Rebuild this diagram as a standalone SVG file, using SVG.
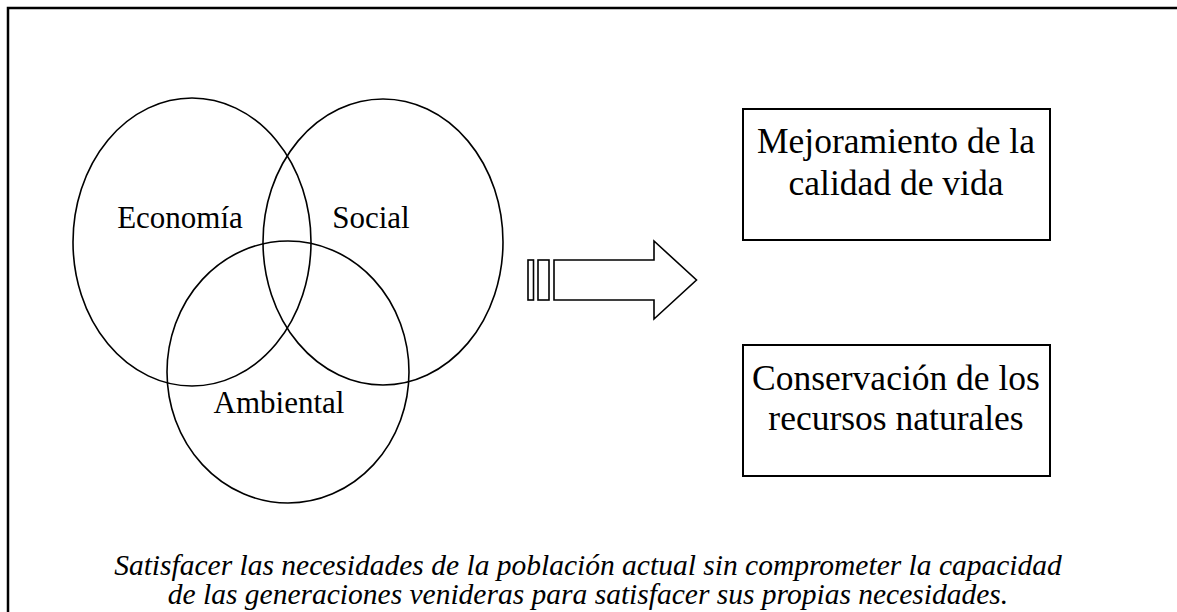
<svg xmlns="http://www.w3.org/2000/svg" width="1177" height="612" viewBox="0 0 1177 612">
<style>
.t{font-family:"Liberation Serif","Times New Roman",serif;font-size:31px;fill:#000;text-anchor:middle}
.bx{font-size:35.5px}
.i{font-style:italic;font-size:29.5px}
.s{fill:none;stroke:#000;stroke-width:1.6}
.b{fill:#fff;stroke:#000;stroke-width:2}
</style>
<rect width="1177" height="612" fill="#fff"/>
<g id="frame"><path d="M8,612 V8 H1177" fill="none" stroke="#000" stroke-width="2.5"/></g>
<g id="economia"><ellipse class="s" cx="192" cy="242" rx="119" ry="144"/><text class="t" x="180" y="228">Economía</text></g>
<g id="social"><ellipse class="s" cx="383" cy="242" rx="120" ry="143"/><text class="t" x="371" y="228">Social</text></g>
<g id="ambiental"><ellipse class="s" cx="288" cy="372" rx="121" ry="131"/><text class="t" x="279" y="413">Ambiental</text></g>
<g id="arrow">
<rect class="s" x="528" y="260" width="5.5" height="40"/>
<rect class="s" x="538" y="260" width="11" height="40"/>
<path class="s" d="M554,260 H654 V241 L696.5,280 L654,319 V300 H554 Z"/>
</g>
<g id="box1"><rect class="b" x="743" y="109" width="307" height="131"/><text class="t bx" x="896" y="153">Mejoramiento de la</text><text class="t bx" x="896" y="195">calidad de vida</text></g>
<g id="box2"><rect class="b" x="743" y="345" width="307" height="131"/><text class="t bx" x="896" y="390">Conservación de los</text><text class="t bx" x="896" y="430">recursos naturales</text></g>
<g id="caption"><text class="t i" x="588" y="575">Satisfacer las necesidades de la población actual sin comprometer la capacidad</text><text class="t i" x="588" y="604">de las generaciones venideras para satisfacer sus propias necesidades.</text></g>
</svg>
